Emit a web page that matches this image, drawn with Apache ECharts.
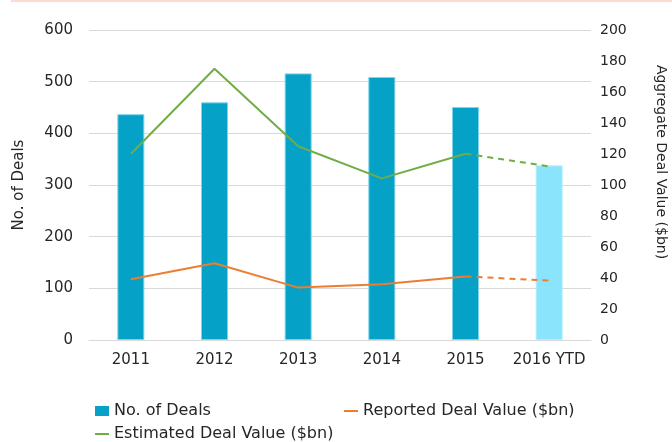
<!DOCTYPE html>
<html>
<head>
<meta charset="utf-8">
<script src="https://cdn.jsdelivr.net/npm/echarts@6/dist/echarts.min.js"></script>
<style>
  html, body { margin: 0; padding: 0; background: #fff; }
  #chart { width: 672px; height: 442px; }
</style>
</head>
<body>
<div id="chart"></div>
<script>
// data
const years = ["2011", "2012", "2013", "2014", "2015", "2016 YTD"];
const deals = [437, 460, 516, 509, 451, 338];
const reported = [39.2, 49.5, 33.8, 36, 41, 38.3];
const estimated = [120, 175, 125, 104.3, 120.2, 112];
const lastIsEstimate = true; // 2016 YTD drawn lighter / dashed

const font = "DejaVu Sans";
const textColor = "#262626";

// split each line in solid part and dashed tail
function solidPart(arr) {
  return arr.map((v, i) => (i < arr.length - 1 ? v : "-"));
}
function dashPart(arr) {
  return arr.map((v, i) => (i >= arr.length - 2 ? v : "-"));
}

const barData = deals.map((v, i) => {
  if (lastIsEstimate && i === deals.length - 1) {
    return { value: v, itemStyle: { color: "#8ae5fc", borderColor: "#b5effd" } };
  }
  return v;
});

const legendText = { color: textColor, fontSize: 16, fontFamily: font };

const option = {
  backgroundColor: "#fff",
  animation: false,
  textStyle: { fontFamily: font },
  grid: { left: 89, right: 81, top: 30, bottom: 102, outerBoundsMode: "none" },
  graphic: [
    {
      type: "rect",
      shape: { x: 11, y: 0, width: 661, height: 2 },
      style: { fill: "#fcdccf" }
    },
    {
      type: "text",
      x: 661,
      y: 162,
      rotation: -Math.PI / 2,
      style: {
        text: "Aggregate Deal Value ($bn)",
        fill: textColor,
        font: "14px " + font,
        align: "center",
        verticalAlign: "middle"
      }
    }
  ],
  legend: [
    {
      left: 95,
      top: 403,
      padding: 0,
      itemWidth: 14,
      itemHeight: 10,
      icon: "rect",
      itemStyle: { borderWidth: 0 },
      textStyle: legendText,
      data: ["No. of Deals"]
    },
    {
      left: 344,
      top: 403,
      padding: 0,
      itemWidth: 14,
      itemHeight: 2,
      icon: "rect",
      textStyle: legendText,
      data: ["Reported Deal Value ($bn)"]
    },
    {
      left: 95,
      top: 426,
      padding: 0,
      itemWidth: 14,
      itemHeight: 2,
      icon: "rect",
      textStyle: legendText,
      data: ["Estimated Deal Value ($bn)"]
    }
  ],
  xAxis: {
    type: "category",
    data: years,
    axisLine: { lineStyle: { color: "#d9d9d9", width: 1 } },
    axisTick: { show: false },
    axisLabel: { color: textColor, fontSize: 15, margin: 13, interval: 0 }
  },
  yAxis: [
    {
      type: "value",
      min: 0,
      max: 600,
      interval: 100,
      name: "No. of Deals",
      nameLocation: "middle",
      nameGap: 62,
      nameTextStyle: { color: textColor, fontSize: 15 },
      axisLine: { show: false },
      axisTick: { show: false },
      axisLabel: { color: textColor, fontSize: 15, margin: 16 },
      splitLine: { lineStyle: { color: "#d9d9d9", width: 1 } }
    },
    {
      type: "value",
      position: "right",
      min: 0,
      max: 200,
      interval: 20,
      axisLine: { show: false },
      axisTick: { show: false },
      axisLabel: { color: textColor, fontSize: 14, margin: 9 },
      splitLine: { show: false }
    }
  ],
  series: [
    {
      name: "No. of Deals",
      type: "bar",
      barWidth: 27,
      itemStyle: { color: "#05a1c6", borderColor: "#7fd3ea", borderWidth: 1 },
      data: barData
    },
    {
      name: "Reported Deal Value ($bn)",
      type: "line",
      yAxisIndex: 1,
      symbol: "none",
      color: "#ed7d31",
      lineStyle: { color: "#ed7d31", width: 2 },
      data: solidPart(reported)
    },
    {
      name: "Reported Deal Value ($bn)",
      type: "line",
      yAxisIndex: 1,
      symbol: "none",
      color: "#ed7d31",
      lineStyle: { color: "#ed7d31", width: 2, type: [6, 5] },
      data: dashPart(reported)
    },
    {
      name: "Estimated Deal Value ($bn)",
      type: "line",
      yAxisIndex: 1,
      symbol: "none",
      color: "#70ad47",
      lineStyle: { color: "#70ad47", width: 2 },
      data: solidPart(estimated)
    },
    {
      name: "Estimated Deal Value ($bn)",
      type: "line",
      yAxisIndex: 1,
      symbol: "none",
      color: "#70ad47",
      lineStyle: { color: "#70ad47", width: 2, type: [6, 5] },
      data: dashPart(estimated)
    }
  ]
};

const myChart = echarts.init(document.getElementById("chart"));
myChart.setOption(option);
</script>
</body>
</html>
